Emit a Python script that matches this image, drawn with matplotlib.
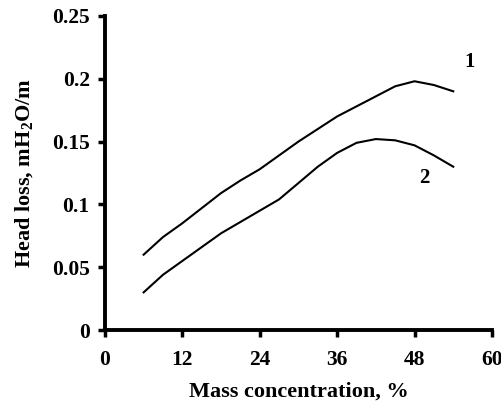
import numpy as np
import matplotlib.pyplot as plt

# mass concentration, %
conc = [6, 9, 12, 15, 18, 21, 24, 27, 30, 33, 36, 39, 42, 45, 48, 51, 54]
# head loss, mH2O/m
head_1 = [0.060, 0.074, 0.085, 0.097, 0.109, 0.119, 0.128, 0.139, 0.150,
          0.160, 0.170, 0.178, 0.186, 0.194, 0.198, 0.195, 0.190]
head_2 = [0.030, 0.044, 0.055, 0.066, 0.077, 0.086, 0.095, 0.104, 0.117,
          0.130, 0.141, 0.149, 0.152, 0.151, 0.147, 0.139, 0.130]

xticks = [0, 12, 24, 36, 48, 60]
yticks = [0, 0.05, 0.1, 0.15, 0.2, 0.25]
ytick_labels = ["0", "0.05", "0.1", "0.15", "0.2", "0.25"]

plt.rcParams["font.family"] = ["Liberation Serif", "DejaVu Serif"]
plt.rcParams["font.weight"] = "bold"
plt.rcParams["mathtext.fontset"] = "custom"
plt.rcParams["mathtext.rm"] = "Liberation Serif:bold"
plt.rcParams["mathtext.bf"] = "Liberation Serif:bold"

fig = plt.figure(figsize=(5.02, 4.08), dpi=100)
ax = fig.add_axes([0.209, 0.191, 0.771, 0.770])

ax.plot(conc, head_1, color="black", lw=1.5)
ax.plot(conc, head_2, color="black", lw=1.5)

ax.text(56.5, 0.213, "1", fontsize=15, fontweight="bold", ha="center", va="center")
ax.text(49.5, 0.121, "2", fontsize=15, fontweight="bold", ha="center", va="center")

ax.set_xlim(0, 60)
ax.set_ylim(0, 0.25)
ax.set_xticks(xticks)
ax.set_xticklabels([str(t) for t in xticks])
ax.set_yticks(yticks)
ax.set_yticklabels(ytick_labels)

for s in ["top", "right"]:
    ax.spines[s].set_visible(False)
for s in ["left", "bottom"]:
    ax.spines[s].set_linewidth(2.8)
ax.tick_params(direction="out", length=5, width=2.5, labelsize=15.5)
ax.tick_params(axis="x", pad=9)
ax.tick_params(axis="y", pad=6)

ax.set_xlabel("Mass concentration, %", fontsize=16, fontweight="bold", labelpad=9)
ax.set_ylabel("Head loss, mH$_\\mathbf{2}$O/m", fontsize=16, fontweight="bold", labelpad=11)

fig.savefig("out.png", dpi=100)
